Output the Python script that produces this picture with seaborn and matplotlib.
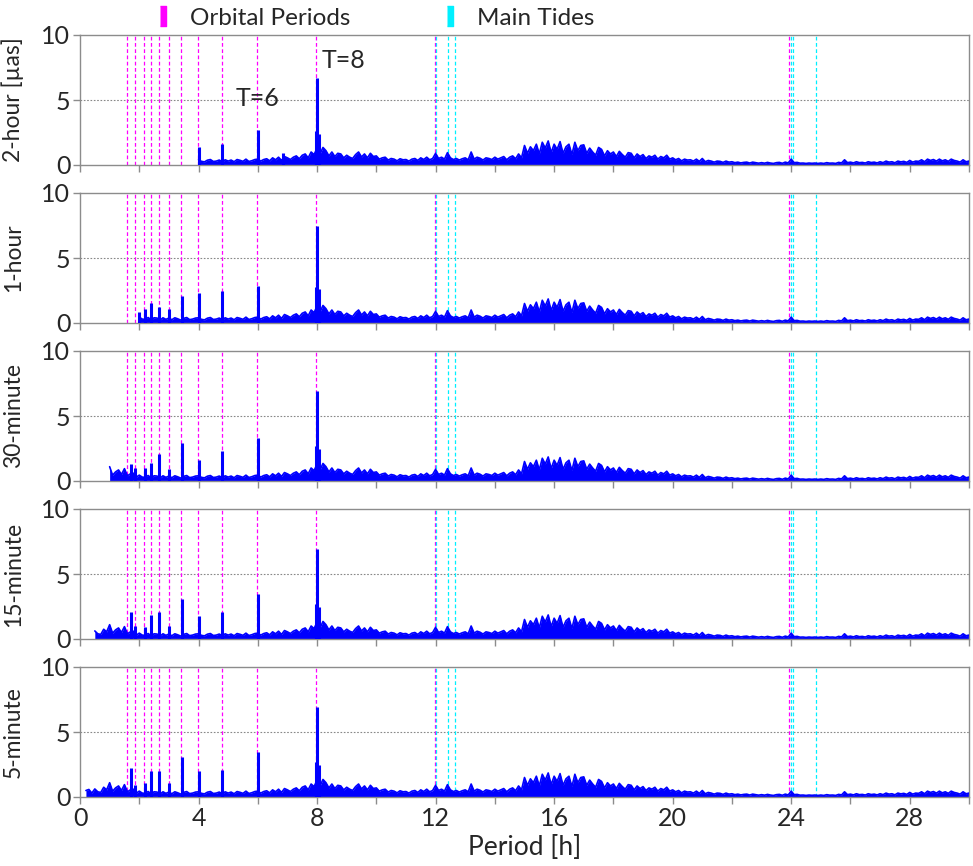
import numpy as np
import pandas as pd
import matplotlib
matplotlib.use("Agg")
import matplotlib.pyplot as plt
from matplotlib.lines import Line2D
import seaborn as sns

# ---------------- data ----------------
panel_names = ["2-hour [\u00b5as]", "1-hour", "30-minute", "15-minute", "5-minute"]
start_periods = [4.0, 2.0, 1.0, 0.5, 0.2]

# common background spectrum, periods every 0.1 h from 0 to 30 (one row per hour)
bg_period = np.round(np.arange(0, 30.0001, 0.1), 2)
bg_amp = [
    0.45, 0.32, 0.50, 0.58, 0.30, 0.62, 0.40, 0.35, 0.75, 0.55,
    1.10, 0.45, 0.70, 0.85, 0.50, 0.95, 0.40, 0.55, 0.60, 0.30,
    0.45, 0.30, 0.28, 0.42, 0.25, 0.40, 0.38, 0.22, 0.40, 0.28,
    0.38, 0.25, 0.40, 0.32, 0.22, 0.36, 0.42, 0.26, 0.30, 0.38,
    0.40, 0.28, 0.24, 0.37, 0.42, 0.27, 0.30, 0.38, 0.25, 0.40,
    0.30, 0.38, 0.25, 0.42, 0.36, 0.28, 0.45, 0.27, 0.33, 0.42,
    0.45, 0.30, 0.42, 0.48, 0.32, 0.55, 0.40, 0.60, 0.35, 0.65,
    0.55, 0.42, 0.60, 0.70, 0.48, 0.75, 0.85, 0.55, 1.00, 0.80,
    1.30, 0.85, 1.35, 1.10, 0.70, 1.00, 0.65, 0.90, 0.85, 0.55,
    0.75, 0.60, 0.50, 0.80, 1.00, 0.62, 0.85, 0.55, 0.90, 0.65,
    0.70, 0.45, 0.55, 0.60, 0.38, 0.50, 0.45, 0.32, 0.48, 0.40,
    0.42, 0.30, 0.45, 0.50, 0.35, 0.55, 0.42, 0.60, 0.40, 0.50,
    0.90, 0.50, 0.60, 0.45, 0.95, 0.55, 0.42, 0.50, 0.38, 0.48,
    0.55, 0.40, 1.00, 0.45, 0.60, 0.52, 0.38, 0.55, 0.50, 0.42,
    0.60, 0.45, 0.55, 0.65, 0.40, 0.60, 0.70, 0.48, 0.85, 0.55,
    1.50, 0.90, 1.40, 1.10, 1.60, 0.85, 1.75, 1.30, 1.85, 0.95,
    1.60, 1.20, 1.80, 0.90, 1.40, 1.60, 0.80, 1.75, 1.10, 1.50,
    1.55, 0.90, 1.30, 1.00, 0.75, 1.35, 1.20, 0.70, 1.10, 0.85,
    1.00, 0.65, 1.05, 0.80, 0.60, 0.95, 0.90, 0.55, 0.85, 0.65,
    0.80, 0.50, 0.70, 0.60, 0.75, 0.45, 0.65, 0.55, 0.75, 0.45,
    0.55, 0.40, 0.50, 0.32, 0.45, 0.38, 0.40, 0.30, 0.45, 0.28,
    0.50, 0.25, 0.35, 0.30, 0.22, 0.30, 0.28, 0.20, 0.30, 0.22,
    0.25, 0.18, 0.22, 0.16, 0.20, 0.22, 0.15, 0.22, 0.18, 0.14,
    0.18, 0.14, 0.20, 0.15, 0.12, 0.18, 0.20, 0.13, 0.22, 0.16,
    0.45, 0.18, 0.20, 0.14, 0.15, 0.12, 0.15, 0.13, 0.15, 0.12,
    0.15, 0.12, 0.18, 0.14, 0.15, 0.12, 0.20, 0.16, 0.40, 0.18,
    0.22, 0.16, 0.25, 0.18, 0.20, 0.15, 0.25, 0.19, 0.22, 0.16,
    0.25, 0.18, 0.30, 0.22, 0.25, 0.17, 0.30, 0.24, 0.28, 0.20,
    0.35, 0.22, 0.30, 0.28, 0.40, 0.25, 0.45, 0.35, 0.42, 0.30,
    0.45, 0.32, 0.40, 0.28, 0.45, 0.35, 0.30, 0.22, 0.40, 0.25,
    0.30,
]

# spectral peaks for each panel
peak_periods = [
    [4.0, 4.8, 6.0, 6.85, 7.95, 8.0, 8.05],
    [2.0, 2.18, 2.4, 2.67, 3.0, 3.43, 4.0, 4.8, 6.0, 7.95, 8.0, 8.05],
    [1.71, 1.84, 2.18, 2.4, 2.67, 3.0, 3.43, 4.0, 4.8, 6.0, 7.95, 8.0, 8.05],
    [1.71, 1.84, 2.18, 2.4, 2.67, 3.0, 3.43, 4.0, 4.8, 6.0, 7.95, 8.0, 8.05],
    [1.71, 1.84, 2.18, 2.4, 2.67, 3.0, 3.43, 4.0, 4.8, 6.0, 7.95, 8.0, 8.05],
]
peak_amps = [
    [1.37, 1.63, 2.70, 0.90, 2.6, 6.7, 2.4],
    [0.85, 1.05, 1.54, 1.23, 1.10, 2.08, 2.30, 2.50, 2.87, 2.8, 7.5, 2.6],
    [1.33, 1.00, 1.00, 1.40, 2.05, 0.95, 2.95, 1.60, 2.30, 3.33, 2.7, 6.9, 2.5],
    [2.05, 0.97, 0.95, 1.85, 2.10, 1.00, 3.10, 1.80, 2.05, 3.45, 2.7, 6.9, 2.5],
    [2.20, 0.95, 1.08, 2.00, 2.00, 1.10, 3.10, 2.00, 2.05, 3.50, 2.7, 6.9, 2.5],
]

orbital_periods = [23.93 / n for n in [1, 2, 3, 4, 5, 6, 7, 8, 9, 10, 11, 13, 15]]
tide_periods = [12.0, 12.42, 12.66, 24.0, 24.07, 24.84]

x_ticks = list(range(0, 31, 2))
x_labels = [str(t) if t % 4 == 0 else "" for t in x_ticks]
y_ticks = [0, 5, 10]

# ---------------- drawing ----------------
sns.set_theme(style="white")
plt.rcParams["font.family"] = ["Lato", "DejaVu Sans"]

W, H = 973, 866
fig = plt.figure(figsize=(W / 100, H / 100), dpi=100)

left, right = 80 / W, 969 / W
tops = [35, 193, 351, 509, 667]
ph = 130
blue = "#0000FF"
magenta = "#FF00FF"
cyan = "#00F0FF"
spine_col = "#8C8C8C"

axes = []
for i in range(5):
    y0 = 1 - (tops[i] + ph) / H
    ax = fig.add_axes([left, y0, right - left, ph / H])
    axes.append(ax)

    df = pd.DataFrame({"period": bg_period, "amp": bg_amp})
    df = df[df["period"] >= start_periods[i]]

    for p in orbital_periods:
        ax.axvline(p, color=magenta, lw=0.9, ls=(0, (3, 2)), zorder=1)
    for p in tide_periods:
        ax.axvline(p, color=cyan, lw=0.9, ls=(0, (3, 2)), zorder=1)
    ax.axhline(5, color="#888888", lw=0.8, ls=(0, (1.5, 1.5)), zorder=0.5)

    ax.fill_between(df["period"], 0, df["amp"], color=blue, lw=0, zorder=2)
    sns.lineplot(data=df, x="period", y="amp", ax=ax, color=blue, lw=1.2, zorder=3)
    ax.vlines(peak_periods[i], 0, peak_amps[i], color=blue, lw=2.2, zorder=3)

    ax.set_xlim(0, 30)
    ax.set_ylim(0, 10)
    ax.set_xticks(x_ticks)
    if i == 4:
        ax.set_xticklabels(x_labels)
        ax.set_xlabel("Period [h]", fontsize=19, labelpad=4)
    else:
        ax.set_xticklabels([])
        ax.set_xlabel("")
    ax.set_yticks(y_ticks)
    ax.set_yticklabels([str(v) for v in y_ticks])
    ax.set_ylabel(panel_names[i], fontsize=16.5)
    ax.yaxis.set_label_coords(-0.063, 0.5)
    ax.tick_params(axis="both", labelsize=18, direction="out", length=5,
                   width=1, color=spine_col, pad=2,
                   bottom=True, left=True)
    for s in ax.spines.values():
        s.set_color(spine_col)
        s.set_linewidth(1.0)
    ax.grid(False)

axes[0].text(6.0, 5.1, "T=6", fontsize=18, ha="center", va="center")
axes[0].text(8.15, 8.0, "T=8", fontsize=18, ha="left", va="center")

rect = [(-0.35, -1), (0.35, -1), (0.35, 1), (-0.35, 1)]
handles = [
    Line2D([], [], ls="none", marker=rect, markersize=14, color=magenta),
    Line2D([], [], ls="none", marker=rect, markersize=14, color=cyan),
]
fig.legend(handles, ["Orbital Periods", "Main Tides"], loc="center",
           bbox_to_anchor=(0.383, 1 - 18 / H), ncol=2, frameon=False,
           fontsize=17.5, columnspacing=3.6, handletextpad=0.6, handlelength=1.0)

fig.savefig("out.png", dpi=100)
